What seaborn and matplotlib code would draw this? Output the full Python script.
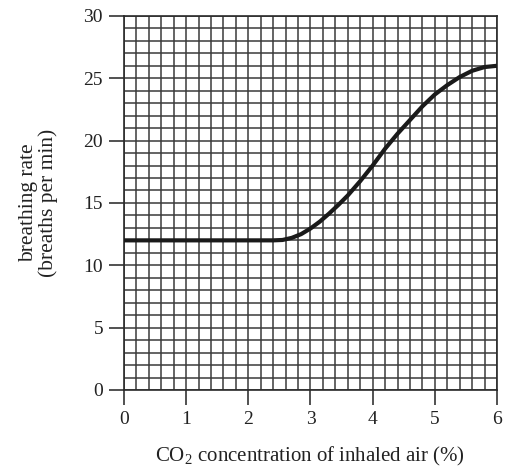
import numpy as np
import pandas as pd
import matplotlib
matplotlib.use('Agg')
import matplotlib.pyplot as plt
import seaborn as sns

co2 = [0, 0.5, 1.0, 1.5, 2.0, 2.4, 2.55, 2.7, 2.85, 3.0, 3.15, 3.3, 3.45, 3.6, 3.8, 4.0, 4.2, 4.4,
       4.6, 4.8, 5.0, 5.2, 5.4, 5.6, 5.8, 6.0]
rate = [12, 12, 12, 12, 12, 12, 12.03, 12.2, 12.5, 12.95, 13.5, 14.15, 14.85, 15.6, 16.75, 18.0,
        19.35, 20.55, 21.65, 22.75, 23.7, 24.45, 25.1, 25.6, 25.9, 26.0]

df = pd.DataFrame({'co2': co2, 'rate': rate})

sns.set_style('white')
plt.rcParams['font.family'] = ['Liberation Serif', 'DejaVu Serif']
plt.rcParams['mathtext.fontset'] = 'custom'
plt.rcParams['mathtext.rm'] = 'Liberation Serif'

fig = plt.figure(figsize=(5.14, 4.68), dpi=100)
ax = fig.add_axes([0.241, 0.1667, 0.726, 0.7993])

# graph paper grid
for xv in np.arange(0, 6.01, 0.2):
    ax.axvline(xv, color='#3a3a3a', lw=1.1, zorder=1)
for yv in np.arange(0, 30.01, 1):
    ax.axhline(yv, color='#3a3a3a', lw=1.1, zorder=1)

sns.lineplot(data=df, x='co2', y='rate', color='#1a1a1a', lw=3.0, ax=ax, zorder=3)

ax.set_xlim(0, 6)
ax.set_ylim(0, 30)
ax.set_xticks(range(0, 7))
ax.set_yticks(range(0, 31, 5))
ax.tick_params(axis='both', direction='out', length=11, width=1.1, color='#222222',
               labelsize=14, labelcolor='#222222', pad=4, bottom=True, left=True)

for s in ax.spines.values():
    s.set_color('#2a2a2a')
    s.set_linewidth(1.2)

ax.set_xlabel('CO$_2$ concentration of inhaled air (%)', fontsize=15, color='#222222', labelpad=12)
ax.set_ylabel('breathing rate\n(breaths per min)', fontsize=15.5, color='#222222', labelpad=18,
              linespacing=1.05)

fig.savefig('out.png', dpi=100)
